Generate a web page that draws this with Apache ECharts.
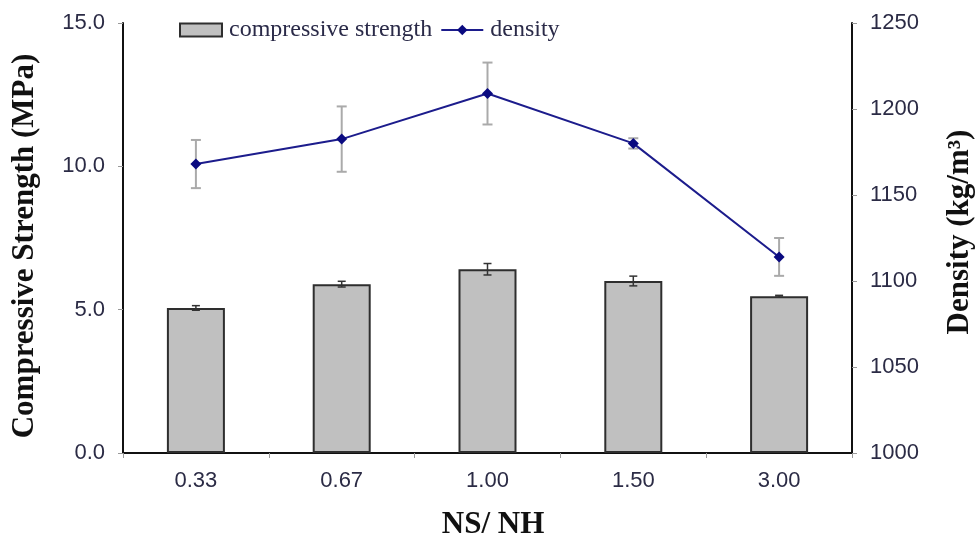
<!DOCTYPE html>
<html>
<head>
<meta charset="utf-8">
<script src="https://cdn.jsdelivr.net/npm/echarts@6/dist/echarts.min.js"></script>
<style>
  html, body { margin: 0; padding: 0; background: #fff; }
  #chart { width: 978px; height: 540px; }
</style>
</head>
<body>
<div id="chart"></div>
<script>
// NS/NH ratio categories
const categories = ['0.33', '0.67', '1.00', '1.50', '3.00'];
// Compressive strength (MPa) and its standard deviation
const strength = [5.06, 5.89, 6.41, 6.00, 5.47];
const strengthErr = [0.08, 0.10, 0.20, 0.17, 0.03];
// Density (kg/m3) and its standard deviation
const density = [1168, 1182.5, 1209, 1180, 1114];
const densityErr = [14, 19, 18, 3, 11];

const serif = '"Liberation Serif", "Times New Roman", serif';
const sans = '"Liberation Sans", Arial, sans-serif';
const tickColor = '#2b2b45';

function errorRows(vals, errs) {
  return vals.map((v, i) => [i, v + errs[i], v - errs[i]]);
}

// Vertical whisker with caps, from value(1) down to value(2)
function makeErrorRenderer(color, capHalf, width) {
  return function (params, api) {
    const x = api.value(0);
    const hi = api.coord([x, api.value(1)]);
    const lo = api.coord([x, api.value(2)]);
    const style = { stroke: color, lineWidth: width };
    return {
      type: 'group',
      children: [
        { type: 'line', shape: { x1: hi[0], y1: hi[1], x2: lo[0], y2: lo[1] }, style },
        { type: 'line', shape: { x1: hi[0] - capHalf, y1: hi[1], x2: hi[0] + capHalf, y2: hi[1] }, style },
        { type: 'line', shape: { x1: lo[0] - capHalf, y1: lo[1], x2: lo[0] + capHalf, y2: lo[1] }, style }
      ]
    };
  };
}

const titleStyle = { fontFamily: serif, fontSize: 31, fontWeight: 'bold', color: '#111' };
const axisLine = { show: true, lineStyle: { color: '#111', width: 2 } };
const axisTick = { show: true, length: 5, lineStyle: { color: '#999' } };

const chart = echarts.init(document.getElementById('chart'));
chart.setOption({
  animation: false,
  backgroundColor: '#fff',
  grid: { left: 123, right: 126, top: 23, bottom: 87, outerBoundsMode: 'none', containLabel: false },
  legend: {
    top: 13,
    left: 174,
    itemGap: 8,
    itemWidth: 42,
    itemHeight: 13,
    textStyle: { fontFamily: serif, fontSize: 24, color: '#2a2a48', padding: [0, 0, 0, 2] },
    data: [
      { name: 'compressive strength', icon: 'rect' },
      { name: 'density' }
    ]
  },
  xAxis: {
    type: 'category',
    data: categories,
    name: 'NS/ NH',
    nameLocation: 'middle',
    nameGap: 56,
    nameTextStyle: Object.assign({ padding: [0, 0, 0, 11] }, titleStyle),
    axisLine: axisLine,
    axisTick: axisTick,
    axisLabel: { fontFamily: sans, fontSize: 22, color: tickColor, margin: 17 }
  },
  yAxis: [
    {
      type: 'value',
      min: 0, max: 15, interval: 5,
      name: 'Compressive Strength (MPa)',
      nameLocation: 'middle',
      nameRotate: 90,
      nameGap: 83,
      nameTextStyle: Object.assign({ padding: [0, 16, 0, 0] }, titleStyle),
      axisLine: axisLine,
      axisTick: axisTick,
      axisLabel: { fontFamily: sans, fontSize: 22, color: tickColor, margin: 18,
                   formatter: v => v.toFixed(1) },
      splitLine: { show: false }
    },
    {
      type: 'value',
      min: 1000, max: 1250, interval: 50,
      name: 'Density (kg/m³)',
      nameLocation: 'middle',
      nameRotate: 90,
      nameGap: 92,
      nameTextStyle: Object.assign({ padding: [0, 0, 0, 12] }, titleStyle),
      axisLine: axisLine,
      axisTick: axisTick,
      axisLabel: { fontFamily: sans, fontSize: 22, color: tickColor, margin: 18,
                   formatter: v => String(v) },
      splitLine: { show: false }
    }
  ],
  series: [
    {
      name: 'compressive strength',
      type: 'bar',
      yAxisIndex: 0,
      data: strength,
      barWidth: 58,
      itemStyle: { color: '#c0c0c0', borderColor: '#2e2e2e', borderWidth: 2 },
      z: 2
    },
    {
      name: 'strengthErr',
      type: 'custom',
      yAxisIndex: 0,
      data: errorRows(strength, strengthErr),
      encode: { x: 0, y: [1, 2] },
      renderItem: makeErrorRenderer('#333', 4, 1.5),
      silent: true,
      z: 3
    },
    {
      name: 'densityErr',
      type: 'custom',
      yAxisIndex: 1,
      data: errorRows(density, densityErr),
      encode: { x: 0, y: [1, 2] },
      renderItem: makeErrorRenderer('#aaa', 5, 2),
      silent: true,
      z: 3
    },
    {
      name: 'density',
      type: 'line',
      yAxisIndex: 1,
      data: density,
      symbol: 'diamond',
      symbolSize: 11,
      color: '#0a0a80',
      lineStyle: { color: '#1c1c8c', width: 2 },
      itemStyle: { color: '#0a0a80' },
      z: 5
    }
  ]
});
</script>
</body>
</html>
